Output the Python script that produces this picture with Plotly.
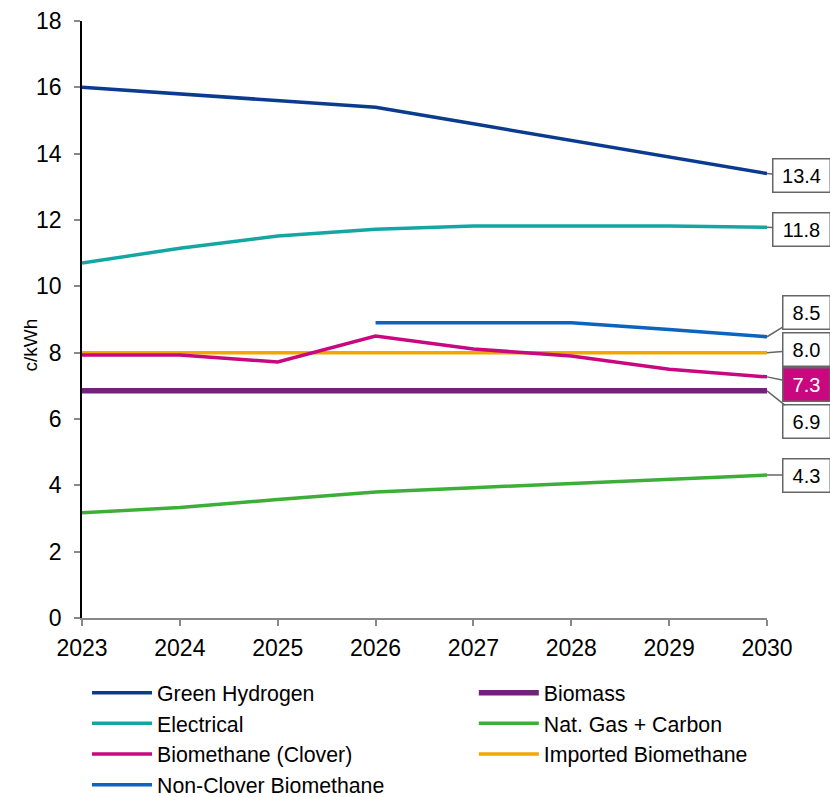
import plotly.graph_objects as go

years = [2023, 2024, 2025, 2026, 2027, 2028, 2029, 2030]
green_hydrogen = [16.0, 15.8, 15.6, 15.4, 14.9, 14.4, 13.9, 13.4]
electrical = [10.7, 11.15, 11.52, 11.72, 11.82, 11.82, 11.82, 11.78]
biomethane_clover = [7.93, 7.93, 7.72, 8.5, 8.11, 7.9, 7.5, 7.27]
non_clover = [None, None, None, 8.9, 8.9, 8.9, 8.7, 8.48]
biomass = [6.85, 6.85, 6.85, 6.85, 6.85, 6.85, 6.85, 6.85]
nat_gas = [3.17, 3.33, 3.57, 3.8, 3.93, 4.05, 4.18, 4.31]
imported = [8.0, 8.0, 8.0, 8.0, 8.0, 8.0, 8.0, 8.0]

end_labels = ["13.4", "11.8", "8.5", "8.0", "7.3", "6.9", "4.3"]

series = [
    # name, values, color, width, legend, rank, label, label offset y, filled
    ("Green Hydrogen", green_hydrogen, "#0B3B8F", 3.5, "legend", 1, end_labels[0], 2, False),
    ("Electrical", electrical, "#14A6A3", 3.5, "legend", 2, end_labels[1], 2, False),
    ("Non-Clover Biomethane", non_clover, "#0C63C0", 3.5, "legend", 4, end_labels[2], -24, False),
    ("Imported Biomethane", imported, "#F0A800", 3.5, "legend2", 3, end_labels[3], -3, False),
    ("Biomethane (Clover)", biomethane_clover, "#C8087E", 3.5, "legend", 3, end_labels[4], 8, True),
    ("Biomass", biomass, "#71237A", 5.5, "legend2", 1, end_labels[5], 31, False),
    ("Nat. Gas + Carbon", nat_gas, "#3DAE38", 3.5, "legend2", 2, end_labels[6], 0, False),
]

fig = go.Figure()
annotations = []
for name, vals, color, width, leg, rank, lab, ay, filled in series:
    fig.add_trace(go.Scatter(
        x=years, y=vals, mode="lines", name=name,
        line=dict(color=color, width=width),
        legend=leg, legendrank=rank, connectgaps=False,
    ))
    text_w = 46 if len(lab) > 3 else 36
    box_w = text_w + 10
    annotations.append(dict(
        x=years[-1], y=vals[-1], xref="x", yref="y",
        text=lab, showarrow=True, arrowhead=0, arrowwidth=1.5,
        arrowcolor="#666666", ax=829 - box_w / 2 - 767, ay=ay, standoff=0,
        width=text_w, align="center",
        bordercolor="#666666", borderwidth=1.5, borderpad=5,
        bgcolor=color if filled else "white",
        font=dict(size=20, color="white" if filled else "black",
                  family="Liberation Sans, Arial, sans-serif"),
    ))

annotations.append(dict(
    text="c/kWh", xref="paper", yref="paper", x=(30 - 82) / 685, y=0.5,
    xanchor="center", yanchor="middle", textangle=-90, showarrow=False,
    yshift=-26,
    font=dict(size=19, color="black", family="Liberation Sans, Arial, sans-serif"),
))

legend_common = dict(
    orientation="v", yanchor="top", xanchor="left",
    font=dict(size=21.3, color="black"),
    itemwidth=60, tracegroupgap=0, bgcolor="rgba(0,0,0,0)",
)

fig.update_layout(
    width=830, height=797,
    margin=dict(l=82, r=63, t=21, b=179, autoexpand=False),
    plot_bgcolor="white", paper_bgcolor="white",
    font=dict(family="Liberation Sans, Arial, sans-serif", color="black"),
    showlegend=True,
    legend=dict(x=0.0073, y=-0.091, **legend_common),
    legend2=dict(x=0.572, y=-0.091, **legend_common),
    annotations=annotations,
)

fig.update_xaxes(
    range=[2023, 2030], tickmode="array", tickvals=years,
    ticktext=[str(y) for y in years],
    showgrid=False, zeroline=False,
    showline=True, linecolor="#888888", linewidth=1.5,
    ticks="outside", ticklen=6, tickcolor="#888888", tickwidth=1.5,
    tickfont=dict(size=23, color="black"), ticklabelstandoff=3,
)
fig.update_yaxes(
    range=[0, 18], tickvals=[0, 2, 4, 6, 8, 10, 12, 14, 16, 18],
    showgrid=False, zeroline=False,
    showline=True, linecolor="black", linewidth=1.5,
    ticks="outside", ticklen=6, tickcolor="#888888", tickwidth=1.5,
    tickfont=dict(size=23, color="black"), ticklabelstandoff=8,
)

fig.write_html("out.html")
